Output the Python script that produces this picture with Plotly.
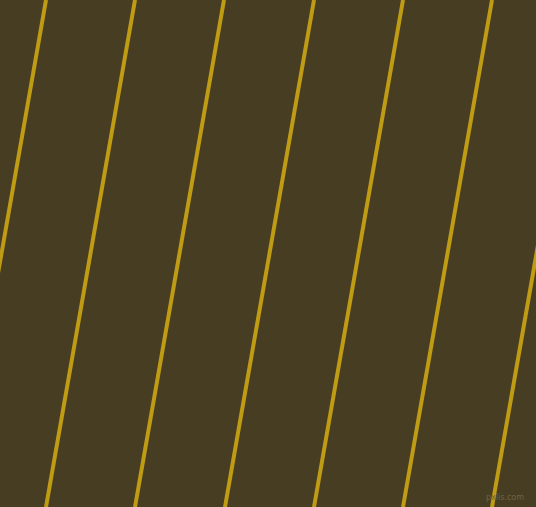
import plotly.graph_objects as go

# Diagonal stripe pattern: where each line crosses the top and bottom edge (px)
top_x = [46, 135, 224, 314, 403, 492, 581]
bottom_x = [-43, 46, 135, 225, 314, 403, 492]
edge_y = [0, 507]

bg_color = "#473D23"
line_color = "#C09B14"

fig = go.Figure()

for tx, bx in zip(top_x, bottom_x):
    fig.add_trace(go.Scatter(
        x=[tx, bx],
        y=edge_y,
        mode="lines",
        line=dict(color=line_color, width=4),
        hoverinfo="skip",
        showlegend=False,
    ))

fig.add_annotation(
    x=526, y=497, xref="x", yref="y",
    text="pxlis.com", showarrow=False,
    xanchor="right", yanchor="middle",
    font=dict(family="DejaVu Sans", size=8, color="#6E6440"),
)

fig.update_layout(
    width=536,
    height=507,
    margin=dict(l=0, r=0, t=0, b=0),
    paper_bgcolor=bg_color,
    plot_bgcolor=bg_color,
    xaxis=dict(range=[0, 536], visible=False, fixedrange=True),
    yaxis=dict(range=[507, 0], visible=False, fixedrange=True),
)

# drop the default page margin so the figure sits flush in the window
fig.write_html(
    "out.html",
    config={"displayModeBar": False},
    post_script="document.body.style.margin='0';document.body.style.overflow='hidden';",
)
